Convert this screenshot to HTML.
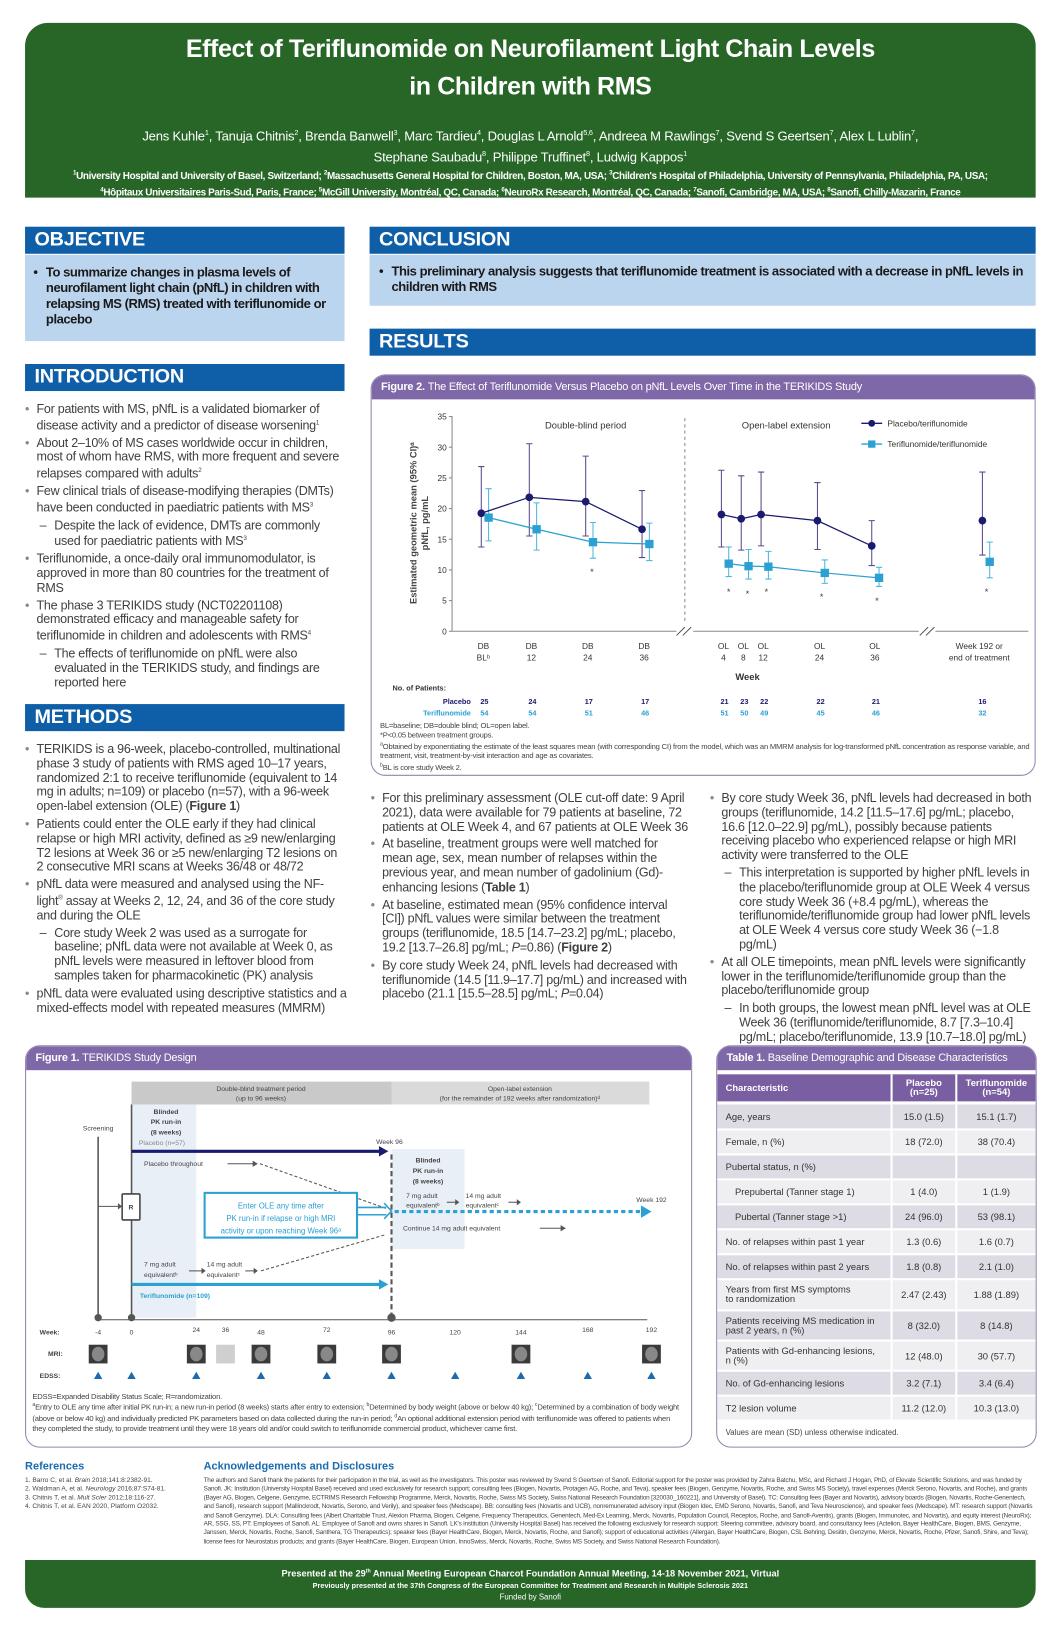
<!DOCTYPE html>
<html><head><meta charset="utf-8">
<style>
html,body{margin:0;padding:0;background:#fff;width:1056px;height:1632px;overflow:hidden}
.page{position:absolute;left:0;top:0;width:1011px;height:1569px;transform:scale(1.044,1.040);transform-origin:0 0;font-family:"Liberation Sans",Arial,sans-serif;color:#444}
.abs{position:absolute}
.hdr{background:#276627;color:#fff;text-align:center;border-radius:22px 22px 0 0}
.sec{position:absolute;background:#0e5ea8;color:#fff;font-weight:bold;font-size:19px;padding-left:9px;line-height:26px;letter-spacing:-0.2px}
.lb{position:absolute;background:#bcd5ee;color:#1a1a1a;font-weight:bold;font-size:12.5px;line-height:15px;letter-spacing:-0.45px}
.txt{position:absolute;font-size:12px;line-height:13.8px;letter-spacing:-0.25px;color:#404040}
.txt p{margin:0 0 3px 0;padding-left:11px;position:relative}
.txt p:before{content:"•";position:absolute;left:0;color:#888}
.txt p.s{padding-left:28px}
.txt p.s:before{content:"–";left:14px;color:#404040}
.box{position:absolute;border:1.5px solid #8f84b0;border-radius:14px;overflow:hidden;background:#fff}
.ph{background:#7f68a8;color:#fff;font-size:10.5px;font-weight:bold;padding-left:9px;line-height:23px;letter-spacing:-0.2px}
.ph span{font-weight:normal}
table{border-collapse:collapse;font-size:9px;color:#333}
td{padding:0 8px;border-right:2px solid #fff;border-bottom:2px solid #fff}
</style></head><body><div class="page">

<div class="abs hdr" style="left:24px;top:22px;width:968px;height:168px">
 <div style="position:absolute;top:8px;width:100%;font-size:24px;font-weight:bold;line-height:36px;letter-spacing:-0.4px">Effect of Teriflunomide on Neurofilament Light Chain Levels<br>in Children with RMS</div>
 <div style="position:absolute;top:98px;width:100%;font-size:12.5px;line-height:18px;letter-spacing:-0.2px">Jens Kuhle<sup style="font-size:7px">1</sup>, Tanuja Chitnis<sup style="font-size:7px">2</sup>, Brenda Banwell<sup style="font-size:7px">3</sup>, Marc Tardieu<sup style="font-size:7px">4</sup>, Douglas L Arnold<sup style="font-size:7px">5,6</sup>, Andreea M Rawlings<sup style="font-size:7px">7</sup>, Svend S Geertsen<sup style="font-size:7px">7</sup>, Alex L Lublin<sup style="font-size:7px">7</sup>,<br>Stephane Saubadu<sup style="font-size:7px">8</sup>, Philippe Truffinet<sup style="font-size:7px">8</sup>, Ludwig Kappos<sup style="font-size:7px">1</sup></div>
 <div style="position:absolute;top:139px;width:100%;font-size:9.5px;line-height:12.5px;font-weight:bold;letter-spacing:-0.35px"><sup style="font-size:6px">1</sup>University Hospital and University of Basel, Switzerland; <sup style="font-size:6px">2</sup>Massachusetts General Hospital for Children, Boston, MA, USA; <sup style="font-size:6px">3</sup>Children's Hospital of Philadelphia, University of Pennsylvania, Philadelphia, PA, USA;<br><sup style="font-size:6px">4</sup>Hôpitaux Universitaires Paris-Sud, Paris, France; <sup style="font-size:6px">5</sup>McGill University, Montréal, QC, Canada; <sup style="font-size:6px">6</sup>NeuroRx Research, Montréal, QC, Canada; <sup style="font-size:6px">7</sup>Sanofi, Cambridge, MA, USA; <sup style="font-size:6px">8</sup>Sanofi, Chilly-Mazarin, France</div>
</div>

<!-- LEFT COLUMN -->
<div class="sec" style="left:24px;top:218px;width:297px">OBJECTIVE</div>
<div class="lb" style="left:24px;top:245px;width:306px;height:83px"><div style="position:absolute;left:8px;top:10px;width:292px">
<div style="position:relative;padding-left:12px"><span style="position:absolute;left:0">•</span>To summarize changes in plasma levels of neurofilament light chain (pNfL) in children with relapsing MS (RMS) treated with teriflunomide or placebo</div></div></div>

<div class="sec" style="left:24px;top:350px;width:297px">INTRODUCTION</div>
<div class="txt" style="left:24px;top:387px;width:306px">
<p>For patients with MS, pNfL is a validated biomarker of disease activity and a predictor of disease worsening<sup style="font-size:6px">1</sup></p>
<p>About 2–10% of MS cases worldwide occur in children, most of whom have RMS, with more frequent and severe relapses compared with adults<sup style="font-size:6px">2</sup></p>
<p>Few clinical trials of disease-modifying therapies (DMTs) have been conducted in paediatric patients with MS<sup style="font-size:6px">3</sup></p>
<p class="s">Despite the lack of evidence, DMTs are commonly used for paediatric patients with MS<sup style="font-size:6px">3</sup></p>
<p>Teriflunomide, a once-daily oral immunomodulator, is approved in more than 80 countries for the treatment of RMS</p>
<p>The phase 3 TERIKIDS study (NCT02201108) demonstrated efficacy and manageable safety for teriflunomide in children and adolescents with RMS<sup style="font-size:6px">4</sup></p>
<p class="s">The effects of teriflunomide on pNfL were also evaluated in the TERIKIDS study, and findings are reported here</p>
</div>

<div class="sec" style="left:24px;top:677px;width:297px">METHODS</div>
<div class="txt" style="left:24px;top:714px;width:308px">
<p>TERIKIDS is a 96-week, placebo-controlled, multinational phase 3 study of patients with RMS aged 10–17 years, randomized 2:1 to receive teriflunomide (equivalent to 14 mg in adults; n=109) or placebo (n=57), with a 96-week open-label extension (OLE) (<b>Figure 1</b>)</p>
<p>Patients could enter the OLE early if they had clinical relapse or high MRI activity, defined as ≥9 new/enlarging T2 lesions at Week 36 or ≥5 new/enlarging T2 lesions on 2 consecutive MRI scans at Weeks 36/48 or 48/72</p>
<p>pNfL data were measured and analysed using the NF-light<sup style="font-size:6px">®</sup> assay at Weeks 2, 12, 24, and 36 of the core study and during the OLE</p>
<p class="s">Core study Week 2 was used as a surrogate for baseline; pNfL data were not available at Week 0, as pNfL levels were measured in leftover blood from samples taken for pharmacokinetic (PK) analysis</p>
<p>pNfL data were evaluated using descriptive statistics and a mixed-effects model with repeated measures (MMRM)</p>
</div>

<!-- RIGHT COLUMN -->
<div class="sec" style="left:354px;top:218px;width:629px">CONCLUSION</div>
<div class="lb" style="left:354px;top:245px;width:638px;height:49px"><div style="position:absolute;left:9px;top:9px;width:620px">
<div style="position:relative;padding-left:12px"><span style="position:absolute;left:0">•</span>This preliminary analysis suggests that teriflunomide treatment is associated with a decrease in pNfL levels in children with RMS</div></div></div>
<div class="sec" style="left:354px;top:316px;width:629px">RESULTS</div>

<div class="box" style="left:355px;top:360px;width:635px;height:384px"><div class="ph">Figure 2. <span>The Effect of Teriflunomide Versus Placebo on pNfL Levels Over Time in the TERIKIDS Study</span></div></div>
<div class="abs" style="left:364px;top:693px;width:625px;font-size:7.3px;line-height:9.3px;color:#444;letter-spacing:-0.2px">BL=baseline; DB=double blind; OL=open label.<br>*P&lt;0.05 between treatment groups.<br><sup style="font-size:5px">a</sup>Obtained by exponentiating the estimate of the least squares mean (with corresponding CI) from the model, which was an MMRM analysis for log-transformed pNfL concentration as response variable, and treatment, visit, treatment-by-visit interaction and age as covariates.<br><sup style="font-size:5px">b</sup>BL is core study Week 2.</div>

<div class="txt" style="left:355px;top:761px;width:305px">
<p>For this preliminary assessment (OLE cut-off date: 9 April 2021), data were available for 79 patients at baseline, 72 patients at OLE Week 4, and 67 patients at OLE Week 36</p>
<p>At baseline, treatment groups were well matched for mean age, sex, mean number of relapses within the previous year, and mean number of gadolinium (Gd)-enhancing lesions (<b>Table 1</b>)</p>
<p>At baseline, estimated mean (95% confidence interval [CI]) pNfL values were similar between the treatment groups (teriflunomide, 18.5 [14.7–23.2] pg/mL; placebo, 19.2 [13.7–26.8] pg/mL; <i>P</i>=0.86) (<b>Figure 2</b>)</p>
<p>By core study Week 24, pNfL levels had decreased with teriflunomide (14.5 [11.9–17.7] pg/mL) and increased with placebo (21.1 [15.5–28.5] pg/mL; <i>P</i>=0.04)</p>
</div>
<div class="txt" style="left:680px;top:761px;width:312px">
<p>By core study Week 36, pNfL levels had decreased in both groups (teriflunomide, 14.2 [11.5–17.6] pg/mL; placebo, 16.6 [12.0–22.9] pg/mL), possibly because patients receiving placebo who experienced relapse or high MRI activity were transferred to the OLE</p>
<p class="s">This interpretation is supported by higher pNfL levels in the placebo/teriflunomide group at OLE Week 4 versus core study Week 36 (+8.4 pg/mL), whereas the teriflunomide/teriflunomide group had lower pNfL levels at OLE Week 4 versus core study Week 36 (−1.8 pg/mL)</p>
<p>At all OLE timepoints, mean pNfL levels were significantly lower in the teriflunomide/teriflunomide group than the placebo/teriflunomide group</p>
<p class="s">In both groups, the lowest mean pNfL level was at OLE Week 36 (teriflunomide/teriflunomide, 8.7 [7.3–10.4] pg/mL; placebo/teriflunomide, 13.9 [10.7–18.0] pg/mL)</p>
</div>

<!-- Figure 1 box -->
<div class="box" style="left:24px;top:1005px;width:637px;height:385px"><div class="ph">Figure 1. <span>TERIKIDS Study Design</span></div></div>
<div class="abs" style="left:31px;top:1338px;width:625px;font-size:7.3px;line-height:9.3px;color:#444;letter-spacing:-0.2px">EDSS=Expanded Disability Status Scale; R=randomization.<br><sup style="font-size:5px">a</sup>Entry to OLE any time after initial PK run-in; a new run-in period (8 weeks) starts after entry to extension; <sup style="font-size:5px">b</sup>Determined by body weight (above or below 40 kg); <sup style="font-size:5px">c</sup>Determined by a combination of body weight (above or below 40 kg) and individually predicted PK parameters based on data collected during the run-in period; <sup style="font-size:5px">d</sup>An optional additional extension period with teriflunomide was offered to patients when they completed the study, to provide treatment until they were 18 years old and/or could switch to teriflunomide commercial product, whichever came first.</div>

<!-- Table -->
<div class="box" style="left:686px;top:1005px;width:305px;height:385px"><div class="ph">Table 1. <span>Baseline Demographic and Disease Characteristics</span></div>
<table style="width:305px;margin-top:4px">
<tr style="background:#7a5ea2;color:#fff;font-weight:bold;height:27px"><td style="width:150px">Characteristic</td><td style="text-align:center;line-height:9px">Placebo<br>(n=25)</td><td style="text-align:center;line-height:9px;border-right:0">Teriflunomide<br>(n=54)</td></tr>
<tr style="height:2px"><td colspan="3" style="border:0;padding:0"></td></tr>
<tr style="background:#dddbe3;height:24px"><td>Age, years</td><td style="text-align:center">15.0 (1.5)</td><td style="text-align:center;border-right:0">15.1 (1.7)</td></tr>
<tr style="background:#efeff1;height:24px"><td>Female, n (%)</td><td style="text-align:center">18 (72.0)</td><td style="text-align:center;border-right:0">38 (70.4)</td></tr>
<tr style="background:#dddbe3;height:24px"><td>Pubertal status, n (%)</td><td></td><td style="border-right:0"></td></tr>
<tr style="background:#efeff1;height:24px"><td style="padding-left:17px">Prepubertal (Tanner stage 1)</td><td style="text-align:center">1 (4.0)</td><td style="text-align:center;border-right:0">1 (1.9)</td></tr>
<tr style="background:#dddbe3;height:24px"><td style="padding-left:17px">Pubertal (Tanner stage &gt;1)</td><td style="text-align:center">24 (96.0)</td><td style="text-align:center;border-right:0">53 (98.1)</td></tr>
<tr style="background:#efeff1;height:24px"><td>No. of relapses within past 1 year</td><td style="text-align:center">1.3 (0.6)</td><td style="text-align:center;border-right:0">1.6 (0.7)</td></tr>
<tr style="background:#dddbe3;height:24px"><td>No. of relapses within past 2 years</td><td style="text-align:center">1.8 (0.8)</td><td style="text-align:center;border-right:0">2.1 (1.0)</td></tr>
<tr style="background:#efeff1;height:30px"><td style="line-height:9px">Years from first MS symptoms<br>to randomization</td><td style="text-align:center">2.47 (2.43)</td><td style="text-align:center;border-right:0">1.88 (1.89)</td></tr>
<tr style="background:#dddbe3;height:29px"><td style="line-height:9px">Patients receiving MS medication in past 2 years, n (%)</td><td style="text-align:center">8 (32.0)</td><td style="text-align:center;border-right:0">8 (14.8)</td></tr>
<tr style="background:#efeff1;height:29px"><td style="line-height:9px">Patients with Gd-enhancing lesions, n (%)</td><td style="text-align:center">12 (48.0)</td><td style="text-align:center;border-right:0">30 (57.7)</td></tr>
<tr style="background:#dddbe3;height:24px"><td>No. of Gd-enhancing lesions</td><td style="text-align:center">3.2 (7.1)</td><td style="text-align:center;border-right:0">3.4 (6.4)</td></tr>
<tr style="background:#efeff1;height:24px"><td>T2 lesion volume</td><td style="text-align:center">11.2 (12.0)</td><td style="text-align:center;border-right:0">10.3 (13.0)</td></tr>
</table>
<div style="font-size:7.5px;padding:6px 8px;color:#444">Values are mean (SD) unless otherwise indicated.</div>
</div>

<!-- references -->
<div class="abs" style="left:24px;top:1404px;font-size:10.5px;font-weight:bold;color:#1a6bb0">References</div>
<div class="abs" style="left:24px;top:1420px;width:160px;font-size:6.3px;line-height:8.4px;color:#444">1. Barro C, et al. <i>Brain</i> 2018;141:8:2382-91.<br>2. Waldman A, et al. <i>Neurology</i> 2016;87:S74-81.<br>3. Chitnis T, et al. <i>Mult Scler</i> 2012;18:116-27.<br>4. Chitnis T, et al. EAN 2020, Platform O2032.</div>
<div class="abs" style="left:195px;top:1404px;font-size:10.5px;font-weight:bold;color:#1a6bb0">Acknowledgements and Disclosures</div>
<div class="abs" style="left:195px;top:1420px;width:795px;font-size:6.1px;line-height:8.4px;color:#444;letter-spacing:-0.15px">The authors and Sanofi thank the patients for their participation in the trial, as well as the investigators. This poster was reviewed by Svend S Geertsen of Sanofi. Editorial support for the poster was provided by Zahra Batchu, MSc, and Richard J Hogan, PhD, of Elevate Scientific Solutions, and was funded by Sanofi. JK: Institution (University Hospital Basel) received and used exclusively for research support; consulting fees (Biogen, Novartis, Protagen AG, Roche, and Teva), speaker fees (Biogen, Genzyme, Novartis, Roche, and Swiss MS Society), travel expenses (Merck Serono, Novartis, and Roche), and grants (Bayer AG, Biogen, Celgene, Genzyme, ECTRIMS Research Fellowship Programme, Merck, Novartis, Roche, Swiss MS Society, Swiss National Research Foundation [320030_160221], and University of Basel). TC: Consulting fees (Bayer and Novartis), advisory boards (Biogen, Novartis, Roche-Genentech, and Sanofi), research support (Mallinckrodt, Novartis, Serono, and Verily), and speaker fees (Medscape). BB: consulting fees (Novartis and UCB), nonremunerated advisory input (Biogen Idec, EMD Serono, Novartis, Sanofi, and Teva Neuroscience), and speaker fees (Medscape). MT: research support (Novartis and Sanofi Genzyme). DLA: Consulting fees (Albert Charitable Trust, Alexion Pharma, Biogen, Celgene, Frequency Therapeutics, Genentech, Med-Ex Learning, Merck, Novartis, Population Council, Receptos, Roche, and Sanofi-Aventis), grants (Biogen, Immunotec, and Novartis), and equity interest (NeuroRx); AR, SSG, SS, PT: Employees of Sanofi. AL: Employee of Sanofi and owns shares in Sanofi. LK's institution (University Hospital Basel) has received the following exclusively for research support: Steering committee, advisory board, and consultancy fees (Actelion, Bayer HealthCare, Biogen, BMS, Genzyme, Janssen, Merck, Novartis, Roche, Sanofi, Santhera, TG Therapeutics); speaker fees (Bayer HealthCare, Biogen, Merck, Novartis, Roche, and Sanofi); support of educational activities (Allergan, Bayer HealthCare, Biogen, CSL Behring, Desitin, Genzyme, Merck, Novartis, Roche, Pfizer, Sanofi, Shire, and Teva); license fees for Neurostatus products; and grants (Bayer HealthCare, Biogen, European Union, InnoSwiss, Merck, Novartis, Roche, Swiss MS Society, and Swiss National Research Foundation).</div>

<div class="abs" style="left:24px;top:1500px;width:968px;height:46px;background:#276627;border-radius:0 0 18px 18px;color:#fff;text-align:center;font-weight:bold">
<div style="font-size:8.8px;margin-top:8px">Presented at the 29<sup style="font-size:5px">th</sup> Annual Meeting European Charcot Foundation Annual Meeting, 14-18 November 2021, Virtual</div>
<div style="font-size:7px;margin-top:4px">Previously presented at the 37th Congress of the European Committee for Treatment and Research in Multiple Sclerosis 2021</div>
<div style="font-size:7.5px;font-weight:normal;margin-top:2px">Funded by Sanofi</div>
</div>

<svg class="abs" style="left:0;top:0" width="1020" height="1577" viewBox="0 0 1020 1577" font-family="Liberation Sans, Arial, sans-serif">
<g font-size="8" fill="#333">
<line x1="433" y1="400" x2="433" y2="607" stroke="#888"/>
<line x1="433" y1="607" x2="985" y2="607" stroke="#888"/>
<g text-anchor="end">
<text x="428" y="610">0</text><text x="428" y="580.5">5</text><text x="428" y="551">10</text><text x="428" y="521.5">15</text><text x="428" y="492">20</text><text x="428" y="462.5">25</text><text x="428" y="433">30</text><text x="428" y="403.5">35</text></g>
<g stroke="#888"><line x1="430" y1="607" x2="433" y2="607"/><line x1="430" y1="577.5" x2="433" y2="577.5"/><line x1="430" y1="548" x2="433" y2="548"/><line x1="430" y1="518.5" x2="433" y2="518.5"/><line x1="430" y1="489" x2="433" y2="489"/><line x1="430" y1="459.5" x2="433" y2="459.5"/><line x1="430" y1="430" x2="433" y2="430"/><line x1="430" y1="400.5" x2="433" y2="400.5"/></g>
<text transform="translate(399,503) rotate(-90)" text-anchor="middle" font-size="9" font-weight="bold" fill="#444">Estimated geometric mean (95% CI)ᵃ</text>
<text transform="translate(410,503) rotate(-90)" text-anchor="middle" font-size="9" font-weight="bold" fill="#444">pNfL, pg/mL</text>
<line x1="656" y1="402" x2="656" y2="600" stroke="#888" stroke-dasharray="3,3"/>
<rect x="648" y="600" width="16" height="10" fill="#fff"/><line x1="648" y1="611" x2="656" y2="603" stroke="#555"/><line x1="654" y1="611" x2="662" y2="603" stroke="#555"/>
<rect x="880" y="600" width="16" height="10" fill="#fff"/><line x1="881" y1="611" x2="889" y2="603" stroke="#555"/><line x1="887" y1="611" x2="895" y2="603" stroke="#555"/>
<text x="561" y="412" text-anchor="middle" font-size="9">Double-blind period</text>
<text x="753" y="412" text-anchor="middle" font-size="9">Open-label extension</text>
<line x1="825" y1="407" x2="845" y2="407" stroke="#1a1a6e" stroke-width="1.3"/><circle cx="835" cy="407" r="3.3" fill="#1a1a6e"/><text x="850" y="410" font-size="8">Placebo/teriflunomide</text>
<line x1="825" y1="427" x2="845" y2="427" stroke="#2ba0d2" stroke-width="1.3"/><rect x="831.5" y="423.5" width="7" height="7" fill="#2ba0d2"/><text x="850" y="430" font-size="8">Teriflunomide/teriflunomide</text>
<g text-anchor="middle" font-size="8">
<text x="463" y="624">DB</text><text x="463" y="635">BLᵇ</text>
<text x="509" y="624">DB</text><text x="509" y="635">12</text>
<text x="563" y="624">DB</text><text x="563" y="635">24</text>
<text x="617" y="624">DB</text><text x="617" y="635">36</text>
<text x="693" y="624">OL</text><text x="693" y="635">4</text>
<text x="712" y="624">OL</text><text x="712" y="635">8</text>
<text x="731" y="624">OL</text><text x="731" y="635">12</text>
<text x="785" y="624">OL</text><text x="785" y="635">24</text>
<text x="838" y="624">OL</text><text x="838" y="635">36</text>
<text x="938" y="624">Week 192 or</text><text x="938" y="635">end of treatment</text>
<text x="716" y="654" font-size="9" font-weight="bold">Week</text>
</g>
<text x="376" y="664" font-size="7" font-weight="bold">No. of Patients:</text>
<text x="451" y="677" font-size="7" font-weight="bold" fill="#1a1a6e" text-anchor="end">Placebo</text>
<text x="451" y="688" font-size="7" font-weight="bold" fill="#2ba0d2" text-anchor="end">Teriflunomide</text>
<g font-size="7" font-weight="bold" text-anchor="middle" fill="#1a1a6e">
<text x="464" y="677">25</text><text x="510" y="677">24</text><text x="564" y="677">17</text><text x="618" y="677">17</text><text x="694" y="677">21</text><text x="713" y="677">23</text><text x="732" y="677">22</text><text x="786" y="677">22</text><text x="839" y="677">21</text><text x="941" y="677">16</text></g>
<g font-size="7" font-weight="bold" text-anchor="middle" fill="#2ba0d2">
<text x="464" y="688">54</text><text x="510" y="688">54</text><text x="564" y="688">51</text><text x="618" y="688">46</text><text x="694" y="688">51</text><text x="713" y="688">50</text><text x="732" y="688">49</text><text x="786" y="688">45</text><text x="839" y="688">46</text><text x="941" y="688">32</text></g>
<g stroke="#5a4a8a" stroke-width="1">
<path d="M461 526V448.6M458 526h6M458 448.6h6 M507 515.4V426.7M504 515.4h6M504 426.7h6 M561 515.4V438.6M558 515.4h6M558 438.6h6 M615 536.1V471.7M612 536.1h6M612 471.7h6 M691 526V452.2M688 526h6M688 452.2h6 M710 529V457.5M707 529h6M707 457.5h6 M729 524.9V453.9M726 524.9h6M726 453.9h6 M783 528.4V464M780 528.4h6M780 464h6 M835 543.8V500.6M832 543.8h6M832 500.6h6 M941 533.7V453.9M938 533.7h6M938 453.9h6" fill="none"/></g>
<g stroke="#4fb6de" stroke-width="1">
<path d="M468 520.1V469.9M465 520.1h6M465 469.9h6 M514 529V483.5M511 529h6M511 483.5h6 M568 536.7V502.4M565 536.7h6M565 502.4h6 M622 539V503M619 539h6M619 503h6 M698 554.4V526M695 554.4h6M695 526h6 M717 556.8V528.4M714 556.8h6M714 528.4h6 M736 556.8V530.2M733 556.8h6M733 530.2h6 M790 560.9V538.4M787 560.9h6M787 538.4h6 M842 563.9V545.5M839 563.9h6M839 545.5h6 M948 555.6V521.3M945 555.6h6M945 521.3h6" fill="none"/></g>
<polyline points="461,493.5 507,478.2 561,482.3 615,508.9" fill="none" stroke="#1a1a6e" stroke-width="1.2"/>
<polyline points="691,494.7 710,498.8 729,494.7 783,500.6 835,524.9" fill="none" stroke="#1a1a6e" stroke-width="1.2"/>
<polyline points="468,497.7 514,508.9 568,521.3 622,523.1" fill="none" stroke="#2ba0d2" stroke-width="1.2"/>
<polyline points="698,542 717,544.4 736,544.9 790,550.9 842,555.6" fill="none" stroke="#2ba0d2" stroke-width="1.2"/>
<g fill="#1a1a6e"><circle cx="461" cy="493.5" r="3.7"/><circle cx="507" cy="478.2" r="3.7"/><circle cx="561" cy="482.3" r="3.7"/><circle cx="615" cy="508.9" r="3.7"/><circle cx="691" cy="494.7" r="3.7"/><circle cx="710" cy="498.8" r="3.7"/><circle cx="729" cy="494.7" r="3.7"/><circle cx="783" cy="500.6" r="3.7"/><circle cx="835" cy="524.9" r="3.7"/><circle cx="941" cy="500.6" r="3.7"/></g>
<g fill="#2ba0d2"><rect x="464" y="493.7" width="8" height="8"/><rect x="510" y="504.9" width="8" height="8"/><rect x="564" y="517.3" width="8" height="8"/><rect x="618" y="519.1" width="8" height="8"/><rect x="694" y="538" width="8" height="8"/><rect x="713" y="540.4" width="8" height="8"/><rect x="732" y="540.9" width="8" height="8"/><rect x="786" y="546.9" width="8" height="8"/><rect x="838" y="551.6" width="8" height="8"/><rect x="944" y="536.2" width="8" height="8"/></g>
<g font-size="9" text-anchor="middle" fill="#444"><text x="567" y="553">*</text><text x="698" y="572">*</text><text x="716" y="574">*</text><text x="734" y="572">*</text><text x="787" y="577">*</text><text x="840" y="581">*</text><text x="945" y="572">*</text></g>
</g>

<g font-size="6.5" fill="#444">
<rect x="126" y="1040" width="249" height="22" fill="#c9c9c9"/>
<rect x="375" y="1040" width="247" height="22" fill="#dadada"/>
<text x="250" y="1049" text-anchor="middle">Double-blind treatment period</text><text x="250" y="1058" text-anchor="middle">(up to 96 weeks)</text>
<text x="498" y="1049" text-anchor="middle">Open-label extension</text><text x="498" y="1058" text-anchor="middle">(for the remainder of 192 weeks after randomization)ᵈ</text>
<rect x="126" y="1062" width="62" height="205" fill="#e9eff6"/>
<rect x="375" y="1105" width="70" height="96" fill="#e9eff6"/>
<text x="159" y="1071" text-anchor="middle" font-weight="bold">Blinded</text><text x="159" y="1081" text-anchor="middle" font-weight="bold">PK run-in</text><text x="159" y="1091" text-anchor="middle" font-weight="bold">(8 weeks)</text>
<text x="410" y="1118" text-anchor="middle" font-weight="bold">Blinded</text><text x="410" y="1128" text-anchor="middle" font-weight="bold">PK run-in</text><text x="410" y="1138" text-anchor="middle" font-weight="bold">(8 weeks)</text>
<text x="94" y="1087" text-anchor="middle">Screening</text>
<line x1="94" y1="1093" x2="94" y2="1267" stroke="#555" stroke-width="1.5"/>
<line x1="126" y1="1062" x2="126" y2="1267" stroke="#555" stroke-width="1.5"/>
<rect x="117" y="1148" width="17" height="25" fill="#fff" stroke="#444" stroke-width="1.5" rx="1"/><text x="125.5" y="1163" text-anchor="middle" font-weight="bold">R</text>
<path d="M94 1160H113" stroke="#555"/><path d="M113 1157l4 3-4 3z" fill="#555"/>
<text x="133" y="1101" fill="#888">Placebo (n=57)</text>
<line x1="126" y1="1107" x2="364" y2="1107" stroke="#1a1a6e" stroke-width="3"/><path d="M363 1102l9 5-9 5z" fill="#1a1a6e"/>
<text x="373" y="1100" text-anchor="middle">Week 96</text>
<text x="138" y="1121">Placebo throughout</text>
<path d="M218 1119H243" stroke="#555"/><path d="M242 1116l5 3-5 3z" fill="#555"/>
<path d="M249 1119L370 1162" stroke="#555" stroke-dasharray="3,2"/>
<line x1="375" y1="1110" x2="375" y2="1267" stroke="#555" stroke-width="2" stroke-dasharray="5,3"/>
<rect x="196" y="1147" width="146" height="43" fill="#fff" stroke="#2ba0d2" stroke-width="2"/>
<text x="269" y="1162" text-anchor="middle" fill="#2ba0d2" font-size="7.5">Enter OLE any time after</text><text x="269" y="1174" text-anchor="middle" fill="#2ba0d2" font-size="7.5">PK run-in if relapse or high MRI</text><text x="269" y="1186" text-anchor="middle" fill="#2ba0d2" font-size="7.5">activity or upon reaching Week 96ᵃ</text>
<path d="M342 1161H370M342 1168H370" stroke="#2ba0d2" stroke-width="1.5"/><path d="M368 1157l7 7.5-7 7.5" fill="none" stroke="#2ba0d2" stroke-width="1.5"/>
<line x1="378" y1="1165" x2="615" y2="1165" stroke="#2ba0d2" stroke-width="3" stroke-dasharray="4,3"/><path d="M614 1159l10 6-10 6z" fill="#2ba0d2"/>
<text x="624" y="1156" text-anchor="middle">Week 192</text>
<text x="389" y="1152">7 mg adult</text><text x="389" y="1161">equivalentᵇ</text>
<path d="M428 1156H437" stroke="#555"/><path d="M436 1153l4 3-4 3z" fill="#555"/>
<text x="446" y="1152">14 mg adult</text><text x="446" y="1161">equivalentᶜ</text>
<path d="M487 1156H496" stroke="#555"/><path d="M495 1153l4 3-4 3z" fill="#555"/>
<text x="386" y="1183">Continue 14 mg adult equivalent</text>
<path d="M517 1181H538" stroke="#555"/><path d="M537 1178l5 3-5 3z" fill="#555"/>
<text x="138" y="1218">7 mg adult</text><text x="138" y="1228">equivalentᵇ</text>
<path d="M181 1222H194" stroke="#555"/><path d="M193 1219l4 3-4 3z" fill="#555"/>
<text x="198" y="1218">14 mg adult</text><text x="198" y="1228">equivalentᶜ</text>
<path d="M235 1222H244" stroke="#555"/><path d="M243 1219l4 3-4 3z" fill="#555"/>
<path d="M250 1222L370 1187" stroke="#555" stroke-dasharray="3,2"/>
<line x1="126" y1="1235" x2="364" y2="1235" stroke="#2ba0d2" stroke-width="3"/><path d="M363 1230l9 5-9 5z" fill="#2ba0d2"/>
<text x="134" y="1248" fill="#2ba0d2" font-weight="bold">Teriflunomide (n=109)</text>
<line x1="94" y1="1269" x2="620" y2="1269" stroke="#555"/>
<circle cx="94" cy="1267" r="3.5" fill="#555"/><circle cx="126" cy="1267" r="3.5" fill="#555"/><circle cx="375" cy="1267" r="4" fill="#555"/>
<text x="38" y="1283" font-weight="bold">Week:</text>
<g text-anchor="middle"><text x="94" y="1283">-4</text><text x="126" y="1283">0</text><text x="188" y="1281">24</text><text x="216" y="1281">36</text><text x="250" y="1283">48</text><text x="313" y="1281">72</text><text x="375" y="1283">96</text><text x="436" y="1283">120</text><text x="499" y="1283">144</text><text x="563" y="1281">168</text><text x="624" y="1281">192</text></g>
<text x="46" y="1304" font-weight="bold">MRI:</text>
<g fill="#3a3a3a"><rect x="85" y="1293" width="18" height="18"/><rect x="179" y="1293" width="18" height="18"/><rect x="241" y="1293" width="18" height="18"/><rect x="304" y="1293" width="18" height="18"/><rect x="366" y="1293" width="18" height="18"/><rect x="490" y="1293" width="18" height="18"/><rect x="615" y="1293" width="18" height="18"/></g>
<rect x="207" y="1293" width="18" height="18" fill="#cfcfcf"/>
<g fill="#888"><ellipse cx="94" cy="1302" rx="6" ry="7"/><ellipse cx="188" cy="1302" rx="6" ry="7"/><ellipse cx="250" cy="1302" rx="6" ry="7"/><ellipse cx="313" cy="1302" rx="6" ry="7"/><ellipse cx="375" cy="1302" rx="6" ry="7"/><ellipse cx="499" cy="1302" rx="6" ry="7"/><ellipse cx="624" cy="1302" rx="6" ry="7"/></g>
<text x="38" y="1325" font-weight="bold">EDSS:</text>
<g fill="#1a6bb0"><path d="M90 1326l4-7 4 7z"/><path d="M122 1326l4-7 4 7z"/><path d="M184 1326l4-7 4 7z"/><path d="M246 1326l4-7 4 7z"/><path d="M309 1326l4-7 4 7z"/><path d="M371 1326l4-7 4 7z"/><path d="M432 1326l4-7 4 7z"/><path d="M495 1326l4-7 4 7z"/><path d="M559 1326l4-7 4 7z"/><path d="M620 1326l4-7 4 7z"/></g>
</g>
</svg>
</div></body></html>
